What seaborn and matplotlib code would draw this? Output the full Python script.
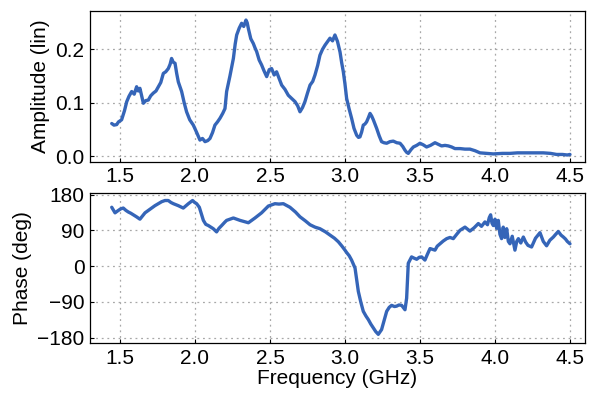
import numpy as np
import pandas as pd
import matplotlib
matplotlib.use("Agg")
import matplotlib.pyplot as plt
import seaborn as sns

# amplitude trace
amp_freq = [1.445, 1.46, 1.478, 1.49, 1.511, 1.53, 1.545, 1.56, 1.578, 1.595, 1.611, 1.622, 1.633,
            1.645, 1.656, 1.672, 1.689, 1.705, 1.722, 1.74, 1.756, 1.772, 1.789, 1.805, 1.822, 1.834,
            1.844, 1.855, 1.867, 1.878, 1.889, 1.911, 1.928, 1.944, 1.965, 1.989, 2.01, 2.033, 2.05,
            2.067, 2.085, 2.1, 2.117, 2.133, 2.15, 2.167, 2.185, 2.2, 2.211, 2.233, 2.256, 2.268,
            2.278, 2.295, 2.311, 2.325, 2.34, 2.348, 2.356, 2.372, 2.389, 2.4, 2.411, 2.428, 2.444,
            2.46, 2.478, 2.495, 2.511, 2.528, 2.544, 2.56, 2.578, 2.6, 2.622, 2.645, 2.667, 2.685,
            2.7, 2.717, 2.733, 2.75, 2.767, 2.785, 2.8, 2.818, 2.833, 2.85, 2.867, 2.885, 2.9, 2.917,
            2.933, 2.95, 2.967, 2.978, 2.989, 3.0, 3.011, 3.028, 3.044, 3.06, 3.078, 3.09, 3.1,
            3.111, 3.122, 3.133, 3.144, 3.156, 3.167, 3.178, 3.189, 3.2, 3.211, 3.228, 3.244, 3.26,
            3.278, 3.3, 3.322, 3.345, 3.367, 3.385, 3.4, 3.411, 3.422, 3.44, 3.456, 3.478, 3.5,
            3.522, 3.544, 3.57, 3.6, 3.622, 3.644, 3.667, 3.689, 3.711, 3.733, 3.767, 3.8, 3.833,
            3.867, 3.9, 3.944, 3.989, 4.05, 4.1, 4.15, 4.211, 4.26, 4.322, 4.37, 4.411, 4.45, 4.482, 4.5]
amplitude = [0.061, 0.058, 0.059, 0.064, 0.068, 0.085, 0.102, 0.112, 0.121, 0.116, 0.130, 0.122, 0.127,
             0.112, 0.099, 0.104, 0.105, 0.113, 0.118, 0.122, 0.130, 0.138, 0.155, 0.158, 0.164, 0.172,
             0.183, 0.176, 0.174, 0.155, 0.139, 0.121, 0.100, 0.083, 0.068, 0.058, 0.045, 0.030, 0.033,
             0.027, 0.029, 0.033, 0.044, 0.058, 0.064, 0.071, 0.080, 0.089, 0.121, 0.150, 0.183, 0.210,
             0.227, 0.240, 0.249, 0.243, 0.255, 0.250, 0.239, 0.220, 0.211, 0.203, 0.196, 0.180, 0.171,
             0.160, 0.149, 0.162, 0.164, 0.152, 0.158, 0.146, 0.133, 0.125, 0.114, 0.108, 0.102, 0.094,
             0.083, 0.091, 0.102, 0.118, 0.133, 0.140, 0.152, 0.170, 0.189, 0.200, 0.208, 0.215, 0.221,
             0.216, 0.227, 0.215, 0.195, 0.175, 0.158, 0.135, 0.108, 0.088, 0.071, 0.052, 0.039, 0.035,
             0.036, 0.045, 0.058, 0.060, 0.064, 0.072, 0.080, 0.075, 0.068, 0.060, 0.052, 0.038, 0.027,
             0.025, 0.024, 0.027, 0.028, 0.025, 0.024, 0.018, 0.011, 0.007, 0.005, 0.012, 0.017, 0.020,
             0.024, 0.021, 0.017, 0.020, 0.025, 0.022, 0.019, 0.020, 0.019, 0.017, 0.014, 0.014, 0.013,
             0.013, 0.010, 0.006, 0.005, 0.004, 0.005, 0.005, 0.006, 0.006, 0.006, 0.006, 0.005, 0.003,
             0.003, 0.002, 0.003]

# phase trace
phase_freq = [1.445, 1.467, 1.489, 1.505, 1.522, 1.54, 1.556, 1.572, 1.589, 1.61, 1.633, 1.65, 1.667,
              1.7, 1.733, 1.755, 1.778, 1.8, 1.822, 1.84, 1.856, 1.889, 1.905, 1.922, 1.94, 1.956, 1.984,
              1.998, 2.011, 2.029, 2.045, 2.056, 2.072, 2.089, 2.105, 2.122, 2.144, 2.16, 2.178, 2.2,
              2.211, 2.256, 2.3, 2.356, 2.4, 2.444, 2.489, 2.533, 2.56, 2.589, 2.633, 2.67, 2.7, 2.735,
              2.767, 2.8, 2.833, 2.87, 2.9, 2.93, 2.956, 2.98, 3.0, 3.011, 3.028, 3.044, 3.067, 3.089,
              3.105, 3.122, 3.14, 3.156, 3.172, 3.189, 3.205, 3.222, 3.244, 3.26, 3.278, 3.295, 3.311,
              3.33, 3.344, 3.36, 3.378, 3.4, 3.411, 3.422, 3.444, 3.46, 3.478, 3.495, 3.511, 3.533,
              3.55, 3.567, 3.6, 3.615, 3.633, 3.655, 3.678, 3.7, 3.722, 3.745, 3.767, 3.8, 3.833, 3.86,
              3.889, 3.91, 3.933, 3.95, 3.962, 3.971, 3.98, 3.989, 4.0, 4.011, 4.022, 4.033, 4.044,
              4.055, 4.066, 4.078, 4.089, 4.1, 4.115, 4.133, 4.145, 4.156, 4.172, 4.189, 4.205, 4.22,
              4.244, 4.27, 4.3, 4.322, 4.344, 4.366, 4.389, 4.405, 4.422, 4.44, 4.456, 4.47, 4.482, 4.5]
phase = [148, 134, 140, 144, 146, 140, 136, 133, 129, 124, 118, 126, 134,
         143, 152, 157, 162, 165, 165, 160, 157, 152, 149, 146, 152, 157, 165,
         160, 157, 148, 128, 115, 105, 102, 98, 94, 86, 95, 102, 111,
         115, 121, 115, 109, 121, 134, 151, 157, 156, 157, 148, 136, 124, 114,
         104, 98, 94, 86, 78, 70, 61, 50, 40, 34, 26, 15, -5, -64,
         -90, -114, -126, -135, -146, -156, -165, -172, -160, -138, -114, -104, -99,
         -102, -101, -98, -99, -110, -81, 7, 23, 20, 17, 22, 23, 15,
         30, 44, 40, 50, 56, 63, 69, 72, 69, 80, 90, 98, 88, 96,
         107, 100, 111, 104, 122, 129, 108, 102, 118, 95, 115, 80, 69,
         98, 72, 94, 62, 56, 75, 40, 62, 69, 58, 73, 60, 52,
         48, 70, 84, 62, 51, 65, 73, 80, 87, 78, 73, 68, 62, 56]

amp_ticks = [0.0, 0.1, 0.2]
phase_ticks = [-180, -90, 0, 90, 180]
freq_ticks = [1.5, 2.0, 2.5, 3.0, 3.5, 4.0, 4.5]

amp_df = pd.DataFrame({"freq": amp_freq, "amp": amplitude})
phase_df = pd.DataFrame({"freq": phase_freq, "phase": phase})

sns.set_theme(style="ticks")
plt.rcParams["font.family"] = ["Liberation Sans", "DejaVu Sans"]
plt.rcParams["text.color"] = "black"
plt.rcParams["axes.labelcolor"] = "black"
plt.rcParams["xtick.color"] = "black"
plt.rcParams["ytick.color"] = "black"
line_color = "#3565b8"
fs = 15

fig = plt.figure(figsize=(5.9, 3.93), dpi=100)
ax1 = fig.add_axes([0.1525, 0.588, 0.839, 0.384])
ax2 = fig.add_axes([0.1525, 0.127, 0.839, 0.382])

sns.lineplot(data=amp_df, x="freq", y="amp", ax=ax1, color=line_color, lw=2.4,
             estimator=None, sort=False)
sns.lineplot(data=phase_df, x="freq", y="phase", ax=ax2, color=line_color, lw=2.4,
             estimator=None, sort=False)

ax1.set_ylim(-0.011, 0.272)
ax1.set_yticks(amp_ticks)
ax1.set_ylabel("Amplitude (lin)", fontsize=fs)
ax1.set_xlabel("")

ax2.set_ylim(-194, 184)
ax2.set_yticks(phase_ticks)
ax2.set_ylabel("Phase (deg)", fontsize=fs)
ax2.set_xlabel("Frequency (GHz)", fontsize=fs, labelpad=1)

for ax in (ax1, ax2):
    ax.set_xlim(1.3, 4.6)
    ax.set_xticks(freq_ticks)
    ax.grid(True, linestyle=(0, (1.5, 3)), color="#a8a8a8", linewidth=0.9)
    ax.tick_params(direction="in", labelsize=fs, length=3, width=0.8, pad=4)
    for sp in ax.spines.values():
        sp.set_linewidth(0.9)
        sp.set_color("black")

ax1.yaxis.set_label_coords(-0.081, 0.5)
ax2.yaxis.set_label_coords(-0.118, 0.5)

fig.savefig("out.png", dpi=100)
